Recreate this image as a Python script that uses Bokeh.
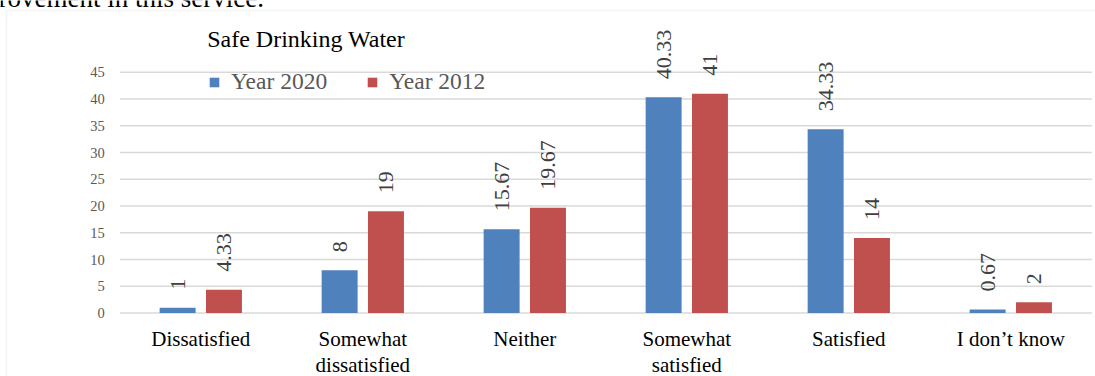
from bokeh.core.properties import value
from bokeh.embed import file_html
from bokeh.models import (BoxAnnotation, ColumnDataSource, FixedTicker, Label,
                          Legend, LegendItem, Range1d)
from bokeh.plotting import figure
from bokeh.resources import INLINE
from bokeh.transform import dodge
import math

# Survey answers on safe drinking water (percent of respondents)
categories = ["Dissatisfied", "Somewhat\ndissatisfied", "Neither",
              "Somewhat\nsatisfied", "Satisfied", "I don\u2019t know"]
year_2020 = [1, 8, 15.67, 40.33, 34.33, 0.67]
year_2012 = [4.33, 19, 19.67, 41, 14, 2]
y_ticks = [0, 5, 10, 15, 20, 25, 30, 35, 40, 45]

SERIF = "Liberation Serif"
BLUE = "#4F81BD"
RED = "#C0504D"
GRID = "#D9D9D9"

W, H = 1095, 376
# plot-area geometry in pixels: category slot width, left edge, zero line, px per unit
SLOT, LEFT, ZERO, PXU = 162.0, 119.3, 312.5, 5.35


def fmt(v):
    return f"{v:g}"


centers = [i + 0.5 for i in range(len(categories))]
src = ColumnDataSource(dict(
    x=centers,
    y2020=year_2020,
    y2012=year_2012,
    t2020=[fmt(v) for v in year_2020],
    t2012=[fmt(v) for v in year_2012],
))

x_range = Range1d(-LEFT / SLOT, (W - LEFT) / SLOT)
y_range = Range1d(-(H - ZERO) / PXU, ZERO / PXU)

p = figure(x_range=x_range, y_range=y_range, width=W, height=H,
           output_backend="svg", toolbar_location=None,
           min_border=0, min_border_left=0, min_border_right=0,
           min_border_top=0, min_border_bottom=0)
p.outline_line_color = None
p.background_fill_color = "white"
p.border_fill_color = "white"
p.xgrid.visible = False
p.ygrid.visible = False

# horizontal gridlines across the category slots
p.segment(x0=[0] * len(y_ticks), x1=[len(categories)] * len(y_ticks),
          y0=y_ticks, y1=y_ticks, line_color=GRID, line_width=1.5)

off = 0.143
bw = 0.222
r20 = p.vbar(x=dodge("x", -off), top="y2020", width=bw, source=src,
             fill_color=BLUE, line_color=None)
r12 = p.vbar(x=dodge("x", off), top="y2012", width=bw, source=src,
             fill_color=RED, line_color=None)

# value labels, rotated to read bottom-to-top
for col, txt, dx in (("y2020", "t2020", -off), ("y2012", "t2012", off)):
    p.text(x=dodge("x", dx), y=col, text=txt, source=src,
           angle=math.pi / 2, text_align="left", text_baseline="middle",
           y_offset=-18, text_font=value(SERIF), text_font_size="22px",
           text_color="#404040")

# axes drawn inside the canvas at the data origin
yax = p.yaxis[0]
yax.fixed_location = 0
yax.ticker = FixedTicker(ticks=y_ticks)
yax.axis_line_color = None
yax.major_tick_line_color = None
yax.minor_tick_line_color = None
yax.major_label_standoff = 9
yax.major_label_text_font = SERIF
yax.major_label_text_font_size = "14.5px"
yax.major_label_text_color = "#595959"

xax = p.xaxis[0]
xax.fixed_location = 0
xax.ticker = FixedTicker(ticks=centers)
xax.major_label_overrides = {c: name for c, name in zip(centers, categories)}
xax.axis_line_color = None
xax.major_tick_line_color = None
xax.minor_tick_line_color = None
xax.major_label_standoff = 8
xax.major_label_text_font = SERIF
xax.major_label_text_font_size = "21px"
xax.major_label_text_line_height = 1.1
xax.major_label_text_color = "#000000"

# chart box
p.add_layout(BoxAnnotation(left=6, right=W + 200, top=H - 10, bottom=-200,
                           left_units="screen", right_units="screen",
                           top_units="screen", bottom_units="screen",
                           fill_alpha=0, line_color=GRID, line_width=1.5))

# surrounding document text
p.add_layout(Label(x=-2, y=H + 3, x_units="screen", y_units="screen",
                   text="rovement in this service.", text_font=SERIF,
                   text_font_size="27px", text_color="#000000",
                   text_baseline="alphabetic"))

# chart title
p.add_layout(Label(x=206.7, y=H - 38, x_units="screen", y_units="screen",
                   text="Safe Drinking Water", text_font=SERIF,
                   text_font_size="24px", text_color="#000000",
                   text_baseline="alphabetic"))

legend = Legend(items=[LegendItem(label="Year 2020", renderers=[r20]),
                       LegendItem(label="Year 2012", renderers=[r12])],
                orientation="horizontal", location=(208, H - 95),
                glyph_width=12, glyph_height=12, label_standoff=11,
                spacing=39, padding=0, margin=0,
                border_line_color=None, background_fill_alpha=0,
                label_text_font=SERIF, label_text_font_size="23.5px",
                label_text_color="#595959")
p.add_layout(legend)

open("out.html", "w").write(file_html(p, INLINE))
